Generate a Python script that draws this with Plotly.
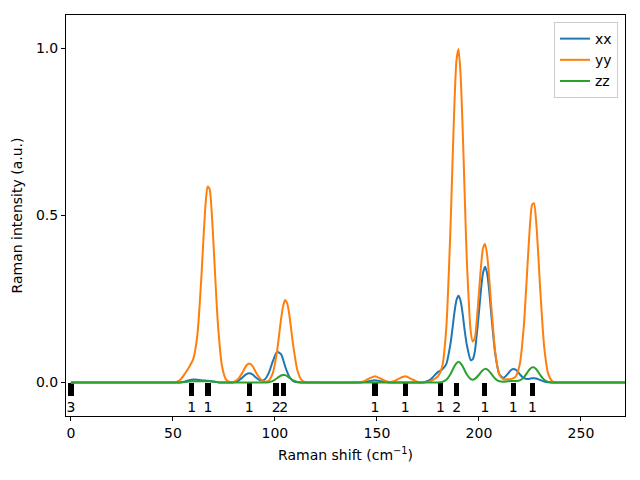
import plotly.graph_objects as go

# Raman shift sample positions (cm^-1)
shift = [0, 45, 50, 52, 54, 56, 58, 60, 62, 64,
         65, 66, 67, 68, 69, 70, 72, 74, 76, 78,
         80, 82, 84, 86, 87.5, 89, 91, 93, 95, 97,
         99, 101, 103, 104, 105, 106, 107, 109, 111, 113,
         115, 120, 140, 143, 146, 149, 152, 155, 158, 161,
         164, 167, 170, 173, 176, 178, 180, 182, 184, 186,
         187, 188, 189, 190, 191, 192, 193, 194, 196, 197,
         198, 200, 201, 202, 203, 204, 205, 206, 208, 210,
         212, 214, 216, 218, 220, 222, 224, 225, 226, 227,
         228, 229, 230, 232, 234, 236, 238, 245, 272]

xx = [0, 0, 0, 0.0003, 0.0012, 0.0037, 0.0073, 0.0093, 0.0084, 0.0067,
      0.0062, 0.006, 0.0056, 0.005, 0.004, 0.003, 0.0012, 0.0003, 0.0001, 0.0002,
      0.0013, 0.0055, 0.0147, 0.025, 0.028, 0.0243, 0.0138, 0.0064, 0.0094, 0.029,
      0.064, 0.092, 0.085, 0.069, 0.049, 0.032, 0.018, 0.0044, 0.0007, 0.0001,
      0, 0, 0, 0.0009, 0.0042, 0.007, 0.0042, 0.0009, 0.0001, 0,
      0, 0, 0, 0.0009, 0.008, 0.020, 0.032, 0.039, 0.055, 0.114,
      0.160, 0.210, 0.247, 0.260, 0.245, 0.207, 0.157, 0.115, 0.067, 0.070,
      0.093, 0.210, 0.278, 0.328, 0.347, 0.327, 0.277, 0.208, 0.086, 0.025,
      0.014, 0.025, 0.039, 0.039, 0.025, 0.013, 0.0105, 0.0115, 0.0127, 0.013,
      0.0123, 0.0104, 0.0079, 0.0032, 0.0009, 0.0001, 0, 0, 0]

yy = [0, 0, 0.0005, 0.003, 0.011, 0.028, 0.047, 0.071, 0.143, 0.320,
      0.434, 0.533, 0.587, 0.579, 0.512, 0.404, 0.181, 0.052, 0.0095, 0.0015,
      0.003, 0.011, 0.029, 0.051, 0.057, 0.050, 0.027, 0.010, 0.003, 0.0064,
      0.029, 0.092, 0.189, 0.228, 0.247, 0.238, 0.206, 0.110, 0.037, 0.0083,
      0.0012, 0, 0, 0.0026, 0.0115, 0.019, 0.0115, 0.003, 0.0033, 0.0127,
      0.019, 0.0104, 0.002, 0.0005, 0.0037, 0.0095, 0.019, 0.048, 0.163, 0.452,
      0.648, 0.835, 0.965, 0.998, 0.923, 0.765, 0.568, 0.379, 0.152, 0.123,
      0.134, 0.268, 0.347, 0.402, 0.415, 0.383, 0.316, 0.233, 0.091, 0.024,
      0.010, 0.010, 0.011, 0.018, 0.054, 0.168, 0.371, 0.469, 0.531, 0.537,
      0.486, 0.392, 0.283, 0.106, 0.0255, 0.004, 0.0004, 0, 0]

zz = [0, 0, 0, 0.0001, 0.0005, 0.0016, 0.0032, 0.0043, 0.0042, 0.004,
      0.0042, 0.0043, 0.0043, 0.0038, 0.0032, 0.0024, 0.001, 0.0003, 0, 0,
      0, 0, 0, 0, 0, 0, 0, 0, 0.0002, 0.0013,
      0.0051, 0.013, 0.0212, 0.023, 0.0222, 0.0192, 0.0149, 0.0064, 0.0018, 0.0003,
      0, 0, 0, 0, 0, 0, 0, 0, 0, 0,
      0, 0, 0, 0, 0, 0, 0.0002, 0.0017, 0.0082, 0.025,
      0.037, 0.0489, 0.0577, 0.062, 0.0577, 0.0489, 0.037, 0.025, 0.0105, 0.0088,
      0.011, 0.0234, 0.0313, 0.0378, 0.041, 0.0396, 0.0342, 0.0265, 0.0115, 0.0038,
      0.0027, 0.004, 0.0051, 0.0048, 0.0065, 0.0157, 0.0325, 0.0406, 0.0456, 0.0456,
      0.0406, 0.0325, 0.0233, 0.0086, 0.002, 0.0003, 0, 0, 0]

# Phonon mode frequencies and their degeneracies
modes = [0, 59.2, 67.2, 87.4, 100.6, 104.3, 149.0, 163.9, 181.2, 189.1, 202.9, 216.8, 226.3]
degeneracy = ["3", "1", "1", "1", "2", "2", "1", "1", "1", "2", "1", "1", "1"]

colors = {"xx": "#1f77b4", "yy": "#ff7f0e", "zz": "#2ca02c"}
font = "DejaVu Sans, Arial, sans-serif"
fs = 14

fig = go.Figure()

fig.add_trace(go.Bar(x=modes, y=[-0.04] * len(modes), base=0, width=2.6,
                     marker=dict(color="black", line=dict(width=0)),
                     showlegend=False, hoverinfo="skip"))
fig.add_trace(go.Scatter(x=modes, y=[-0.078] * len(modes), mode="text",
                         text=degeneracy, textposition="middle center",
                         textfont=dict(family=font, size=fs, color="black"),
                         showlegend=False, hoverinfo="skip", cliponaxis=False))

for name, vals in (("xx", xx), ("yy", yy), ("zz", zz)):
    fig.add_trace(go.Scatter(x=shift, y=vals, mode="lines", name=name,
                             line=dict(color=colors[name], width=2, shape="spline", smoothing=0.6)))

fig.update_layout(
    width=640, height=480,
    margin=dict(l=66, r=15, t=15, b=64),
    paper_bgcolor="white", plot_bgcolor="white",
    font=dict(family=font, size=fs, color="black"),
    bargap=0,
    legend=dict(x=0.9875, y=0.9825, xanchor="right", yanchor="top",
                bgcolor="rgba(255,255,255,0.8)", bordercolor="#cccccc", borderwidth=1,
                font=dict(family=font, size=fs), itemwidth=30, tracegroupgap=0),
)
fig.update_xaxes(range=[-2.4, 271.6], tickvals=[0, 50, 100, 150, 200, 250],
                 showgrid=False, zeroline=False, showline=True, mirror=True,
                 linecolor="black", linewidth=1, ticks="outside", ticklen=4,
                 tickcolor="black",
                 title=dict(text="Raman shift (cm<sup>−1</sup>)", standoff=10,
                            font=dict(family=font, size=fs)))
fig.update_yaxes(range=[-0.1, 1.1], tickvals=[0, 0.5, 1.0], tickformat=".1f",
                 showgrid=False, zeroline=False, showline=True, mirror=True,
                 linecolor="black", linewidth=1, ticks="outside", ticklen=4,
                 tickcolor="black",
                 title=dict(text="Raman intensity (a.u.)", standoff=10,
                            font=dict(family=font, size=fs)))

fig.write_html("out.html")
